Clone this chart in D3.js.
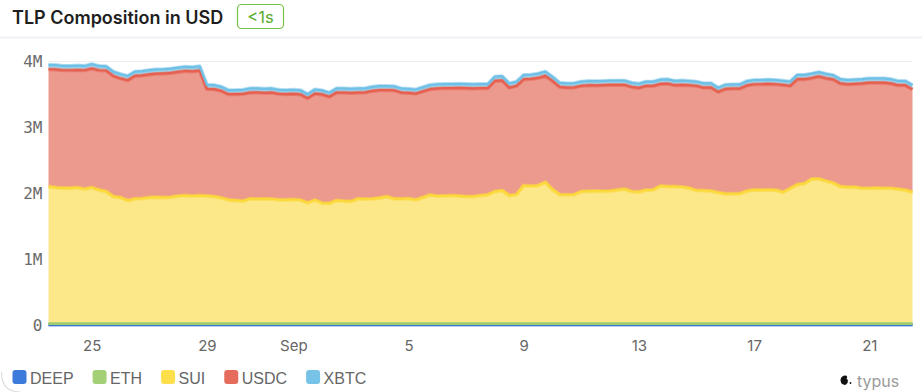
<!DOCTYPE html>
<html><head><meta charset="utf-8">
<script src="https://cdn.jsdelivr.net/npm/d3@7"></script>
<style>body{margin:0;background:#fff;overflow:hidden}svg{display:block}</style>
</head><body>
<svg id="c" width="922" height="392"></svg>
<script>
// ---------- DATA (values in thousands of USD, 6-hourly from startTime) ----------
const UNIT = 1000;
const startTime = "2025-08-23T12:00:00Z";
const stepHours = 6;
const seriesNames = ["DEEP", "ETH", "SUI", "USDC", "XBTC"];
const deep = [3,3,3,3,3,3,3,3,3,3, 3,3,3,3,3,3,3,3,3,3, 3,3,3,3,3,3,3,3,3,3,
  3,3,3,3,3,3,3,3,3,3, 3,3,3,3,3,3,3,3,3,3, 3,3,3,3,3,3,3,3,3,3,
  3,3,3,3,3,3,3,3,3,3, 3,3,3,3,3,3,3,3,3,3, 3,3,3,3,3,3,3,3,3,3,
  3,3,3,3,3,3,3,3,3,3, 3,3,3,3,3,3,3,3,3,3, 3,3,3,3,3,3,3,3,3,3, 3];
const eth = [14,14,14,14,14,14,14,14,14,14, 14,14,14,14,14,14,14,14,14,14, 14,14,14,14,14,14,14,14,14,14,
  14,14,14,14,14,14,14,14,14,14, 14,14,14,14,14,14,14,14,14,14, 14,14,14,14,14,14,14,14,14,14,
  14,14,14,14,14,14,14,14,14,14, 14,14,14,14,14,14,14,14,14,14, 14,14,14,14,14,14,14,14,14,14,
  14,14,14,14,14,14,14,14,14,14, 14,14,14,14,14,14,14,14,14,14, 14,14,14,14,14,14,14,14,14,14, 14];
const sui = [2081,2066,2058,2058,2066,2043,2066,2031,2006,1930,
  1915,1870,1895,1900,1915,1920,1915,1920,1938,1945,
  1938,1945,1938,1930,1908,1880,1870,1862,1895,1892,
  1895,1892,1880,1880,1885,1877,1835,1877,1830,1826,
  1870,1862,1855,1895,1892,1895,1908,1930,1895,1895,
  1900,1880,1915,1953,1938,1938,1945,1938,1930,1930,
  1945,1956,2006,2021,1945,1960,2096,2089,2096,2146,
  2036,1960,1956,1960,2006,2010,2013,2010,2013,2028,
  2043,2006,1998,2028,2031,2089,2081,2081,2074,2058,
  2021,2021,2013,1990,1971,1971,1975,2013,2031,2028,
  2031,2028,1995,2051,2111,2126,2197,2197,2164,2134,
  2081,2071,2074,2055,2055,2058,2055,2055,2043,2028,
  1995];
const usdc = [1777,1789,1785,1785,1781,1800,1804,1812,1833,1827,
  1804,1822,1862,1864,1864,1871,1879,1882,1879,1887,
  1887,1894,1622,1626,1622,1600,1610,1623,1610,1615,
  1605,1613,1605,1600,1600,1600,1585,1612,1647,1615,
  1635,1643,1645,1610,1615,1635,1633,1611,1643,1610,
  1600,1609,1608,1603,1630,1633,1626,1637,1641,1638,
  1626,1615,1675,1668,1635,1646,1611,1622,1630,1611,
  1645,1630,1624,1623,1600,1606,1600,1606,1608,1593,
  1578,1584,1577,1578,1575,1547,1559,1535,1547,1558,
  1585,1559,1570,1525,1589,1594,1590,1600,1600,1603,
  1605,1603,1626,1555,1596,1581,1529,1552,1558,1570,
  1562,1560,1562,1588,1600,1597,1600,1588,1573,1588,
  1558];
const xbtc = [66,66,65,65,66,65,66,65,64,64,
  65,64,65,65,65,64,64,65,65,64,
  64,64,62,62,62,61,62,62,62,62,
  62,62,61,61,62,62,60,62,61,60,
  62,62,62,62,62,62,62,63,62,62,
  62,62,62,63,63,63,63,63,63,63,
  63,63,64,64,63,63,65,64,65,65,
  63,63,63,63,64,64,64,64,64,64,
  64,64,63,64,64,65,65,65,65,64,
  64,64,64,63,63,63,63,64,64,64,
  64,64,63,64,65,65,66,66,66,65,
  64,64,64,64,64,64,64,64,64,63,
  63];
const yTickValues = [0, 1e6, 2e6, 3e6, 4e6];
const yTickLabels = ["0", "1M", "2M", "3M", "4M"];
const xTickDates = ["2025-08-25", "2025-08-29", "2025-09-01", "2025-09-05", "2025-09-09", "2025-09-13", "2025-09-17", "2025-09-21"];
const xTickLabels = ["25", "29", "Sep", "5", "9", "13", "17", "21"];

// ---------- STYLE ----------
const lineColors = {DEEP:"#3b78d8", ETH:"#9dcc6e", SUI:"#fcd93a", USDC:"#e5604f", XBTC:"#6fc0e6"};
const fillColors = {DEEP:"#3b78d8", ETH:"#a8d27f", SUI:"#fce47c", USDC:"#ea8e82", XBTC:"#a9d9ef"};
const legendColors = {DEEP:"#3d7bda", ETH:"#a3cf77", SUI:"#fddf4b", USDC:"#e56b5b", XBTC:"#77c3e7"};

const svg = d3.select("#c");
const W = 922, H = 392;
const plot = {left: 48.5, right: 912.5, top: 61, bottom: 325};

// card corner + header separator
svg.append("path").attr("d", "M1.5,372 Q1.5,392 20,392").attr("fill", "none").attr("stroke", "#dedede").attr("stroke-width", 1.2);
svg.append("line").attr("x1", 0).attr("x2", W).attr("y1", 37.5).attr("y2", 37.5).attr("stroke", "#eef1f6").attr("stroke-width", 2);

// title
svg.append("text").attr("x", 12).attr("y", 24).text("TLP Composition in USD")
  .attr("font-family", "Inter, 'Noto Sans', sans-serif").attr("font-weight", 600).attr("font-size", 18).attr("fill", "#1e1e1e");
svg.append("rect").attr("x", 237.5).attr("y", 4.5).attr("width", 46).attr("height", 24).attr("rx", 4)
  .attr("fill", "#fff").attr("stroke", "#78c046").attr("stroke-width", 1.2);
svg.append("text").attr("x", 260.5).attr("y", 22.5).attr("text-anchor", "middle").text("<1s")
  .attr("font-family", "Inter, 'Noto Sans', sans-serif").attr("font-size", 16.5).attr("fill", "#58ac2a");

// data
const dates = sui.map((_, i) => d3.utcHour.offset(new Date(startTime), i * stepHours));
const rows = dates.map((d, i) => ({date: d, DEEP: deep[i] * UNIT, ETH: eth[i] * UNIT, SUI: sui[i] * UNIT, USDC: usdc[i] * UNIT, XBTC: xbtc[i] * UNIT}));
const stacked = d3.stack().keys(seriesNames)(rows);

const x = d3.scaleUtc().domain(d3.extent(dates)).range([plot.left, plot.right]);
const y = d3.scaleLinear().domain([0, 4e6]).range([plot.bottom, plot.top]);

// grid
const grid = svg.append("g").attr("transform", `translate(${plot.left},0)`)
  .call(d3.axisLeft(y).tickValues(yTickValues).tickSize(-(plot.right - plot.left)).tickFormat(""));
grid.select(".domain").remove();
grid.selectAll("line").attr("stroke", "#ededed").attr("stroke-width", 1);

// areas
const area = d3.area().x(d => x(d.data.date)).y0(d => y(d[0])).y1(d => y(d[1]));
const line = d3.line().x(d => x(d.data.date)).y(d => y(d[1]));
svg.append("g").selectAll("path").data(stacked).join("path")
  .attr("d", area).attr("fill", d => fillColors[d.key]).attr("fill-opacity", 0.9);
svg.append("g").selectAll("path").data(stacked).join("path")
  .attr("d", line).attr("fill", "none").attr("stroke", d => lineColors[d.key]).attr("stroke-opacity", 0.5)
  .attr("stroke-width", 4).attr("stroke-linejoin", "round");
svg.append("g").selectAll("path").data(stacked).join("path")
  .attr("d", line).attr("fill", "none").attr("stroke", d => lineColors[d.key])
  .attr("stroke-width", 2.2).attr("stroke-linejoin", "round");

// y axis
const ya = svg.append("g").attr("transform", `translate(${plot.left},0)`)
  .call(d3.axisLeft(y).tickValues(yTickValues).tickFormat((d, i) => yTickLabels[i]).tickSize(0).tickPadding(6));
ya.select(".domain").remove();
ya.selectAll("text").attr("font-family", "'DejaVu Sans Mono', monospace").attr("font-size", 16).attr("fill", "#6a6a6a");

// x axis
const xa = svg.append("g").attr("transform", `translate(0,${plot.bottom})`)
  .call(d3.axisBottom(x).tickValues(xTickDates.map(s => new Date(s + "T00:00:00Z"))).tickFormat((d, i) => xTickLabels[i]).tickSize(0).tickPadding(15));
xa.select(".domain").remove();
xa.selectAll("text").attr("font-family", "Inter, 'Noto Sans', sans-serif").attr("font-size", 15).attr("fill", "#666");

// legend
const lg = svg.append("g");
let lx = 12.5;
seriesNames.forEach(k => {
  lg.append("rect").attr("x", lx).attr("y", 370).attr("width", 14).attr("height", 14).attr("rx", 3).attr("fill", legendColors[k]);
  const t = lg.append("text").attr("x", lx + 17.5).attr("y", 384).text(k)
    .attr("font-family", "'Liberation Sans', Arial, sans-serif").attr("font-size", 16).attr("fill", "#666");
  lx = lx + 17.5 + t.node().getComputedTextLength() + 19;
});

// watermark
svg.append("path").attr("d", "M842,384 C839,380 841,376 845,375.5 C847,375.3 848,377 846.5,378.5 C849,380 848,384 845,385 Z").attr("fill", "#111");
svg.append("circle").attr("cx", 850.5).attr("cy", 383).attr("r", 0.9).attr("fill", "#111");
svg.append("text").attr("x", 857).attr("y", 387).text("typus")
  .attr("font-family", "Inter, 'Noto Sans', sans-serif").attr("font-size", 16).attr("fill", "#9a9a9a");
</script>
</body></html>
